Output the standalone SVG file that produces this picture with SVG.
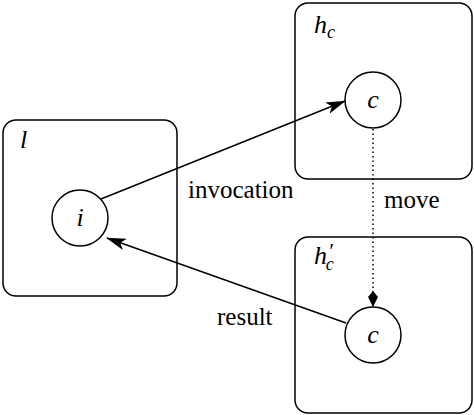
<svg xmlns="http://www.w3.org/2000/svg" width="474" height="415" viewBox="0 0 474 415">
<style>
text{font-family:"Liberation Serif","DejaVu Serif",serif;fill:#000}
.box{fill:none;stroke:#000;stroke-width:1.5}
.node{fill:#fff;stroke:#000;stroke-width:1.5}
.lbl{font-size:25px}
.m{font-style:italic;font-size:26px}
.sub{font-size:18px}
.edge{stroke:#000;stroke-width:1.5;fill:none}
</style>
<defs>
<marker id="arr" viewBox="0 0 20 12" refX="19" refY="6" markerWidth="20" markerHeight="12" markerUnits="userSpaceOnUse" orient="auto">
<path d="M0,0 L20,6 L0,12 L5,6 Z" fill="#000"/>
</marker>
<marker id="dia" viewBox="0 0 16 10" refX="15" refY="5" markerWidth="16" markerHeight="10" markerUnits="userSpaceOnUse" orient="auto">
<path d="M0,5 L6,0 L16,5 L6,10 Z" fill="#000"/>
</marker>
</defs>
<g id="l">
<rect class="box" x="3" y="120" width="174" height="176" rx="13"/>
<text class="m" x="20" y="148">l</text>
</g>
<g id="hc">
<rect class="box" x="295" y="3" width="177" height="176" rx="13"/>
<text class="m" x="314" y="33">h<tspan class="sub" dy="5">c</tspan></text>
</g>
<g id="hc2">
<rect class="box" x="295" y="237" width="177" height="176" rx="13"/>
<text class="m" x="314" y="264">h<tspan font-size="22px" dx="1" dy="-6">′</tspan><tspan class="sub" dx="-7" dy="12">c</tspan></text>
</g>
<g id="i">
<circle class="node" cx="80" cy="218" r="28"/>
<text class="m" x="80" y="226" text-anchor="middle">i</text>
</g>
<g id="c1">
<circle class="node" cx="373" cy="100" r="28"/>
<text class="m" x="373" y="108" text-anchor="middle">c</text>
</g>
<g id="c2">
<circle class="node" cx="373" cy="335" r="28"/>
<text class="m" x="373" y="343" text-anchor="middle">c</text>
</g>
<g id="connectors">
<line class="edge" x1="101" y1="199" x2="345" y2="101" marker-end="url(#arr)"/>
<line class="edge" x1="346" y1="323" x2="107" y2="238" marker-end="url(#arr)"/>
<line class="edge" x1="373" y1="129" x2="373" y2="306" stroke-dasharray="1.5,3" marker-end="url(#dia)"/>
<text class="lbl" x="188" y="198">invocation</text>
<text class="lbl" x="384" y="208">move</text>
<text class="lbl" x="217" y="325">result</text>
</g>
</svg>
